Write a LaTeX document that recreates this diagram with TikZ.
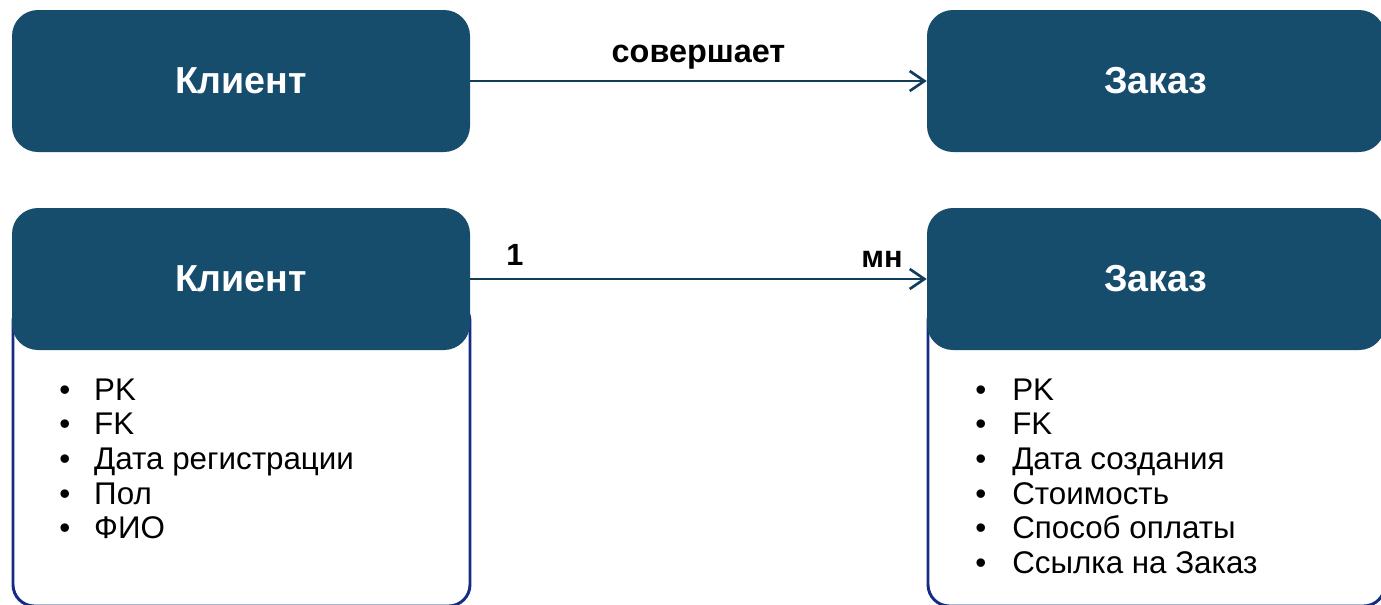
\documentclass[tikz,border=0pt]{standalone}
\usepackage{fontspec}
\setmainfont{Liberation Sans}
\usetikzlibrary{arrows.meta}
\definecolor{hdr}{RGB}{22,76,108}
\definecolor{outl}{RGB}{20,45,130}
\definecolor{conncol}{RGB}{18,62,92}
\begin{document}
\begin{tikzpicture}[x=0.75pt,y=-0.75pt,
  hdrbox/.style={fill=hdr, draw=none, rounded corners=19.5pt, minimum width=343.5pt, minimum height=106.5pt,
    text=white, font=\fontsize{28.2pt}{32pt}\selectfont\bfseries, inner sep=0pt},
  bodybox/.style={draw=outl, line width=2.2pt, fill=white, rounded corners=16pt, inner sep=0pt},
  conn/.style={draw=conncol, line width=2pt, -{Straight Barb[length=11pt,width=15pt,line width=2pt]}},
  lab/.style={font=\fontsize{23pt}{26pt}\selectfont\bfseries, text=black, inner sep=0pt, anchor=base},
  listtxt/.style={font=\fontsize{23.5pt}{26pt}\selectfont, text=black, inner sep=0pt, anchor=base west}
]
\useasboundingbox (0,0) rectangle (1381,604);
\clip (0,0) rectangle (1381,604);
% bodies
\node[bodybox, minimum width=342.75pt, minimum height=229.5pt] (cb) at (241.5,453) {};
\node[bodybox, minimum width=342.75pt, minimum height=229.5pt] (zb) at (1156.5,453) {};
% headers
\node[hdrbox] (c1) at (241,81) {Клиент};
\node[hdrbox] (z1) at (1156,81) {Заказ};
\node[hdrbox] (c2) at (241,279) {Клиент};
\node[hdrbox] (z2) at (1156,279) {Заказ};
% connectors
\draw[conn] (c1.east) -- node[lab, pos=0.5, yshift=14.25pt, font=\fontsize{24.3pt}{26pt}\selectfont\bfseries] (l1) {совершает} (z1.west);
\draw[conn] (c2.east) -- node[lab, pos=0.098, yshift=10.5pt] (l2) {1} node[lab, pos=0.902, yshift=9pt] (l3) {мн} (z2.west);
% lists
\node[listtxt] (cl) at (59,400) {\begin{tabular}[t]{@{}p{26.25pt}@{}l@{}}
• & PK\\ • & FK\\ • & Дата регистрации\\ • & Пол\\ • & ФИО\end{tabular}};
\node[listtxt] (zl) at (975,400) {\begin{tabular}[t]{@{}p{27.75pt}@{}l@{}}
• & PK\\ • & FK\\ • & Дата создания\\ • & Стоимость\\ • & Способ оплаты\\ • & Ссылка на Заказ\end{tabular}};
\end{tikzpicture}
\end{document}
